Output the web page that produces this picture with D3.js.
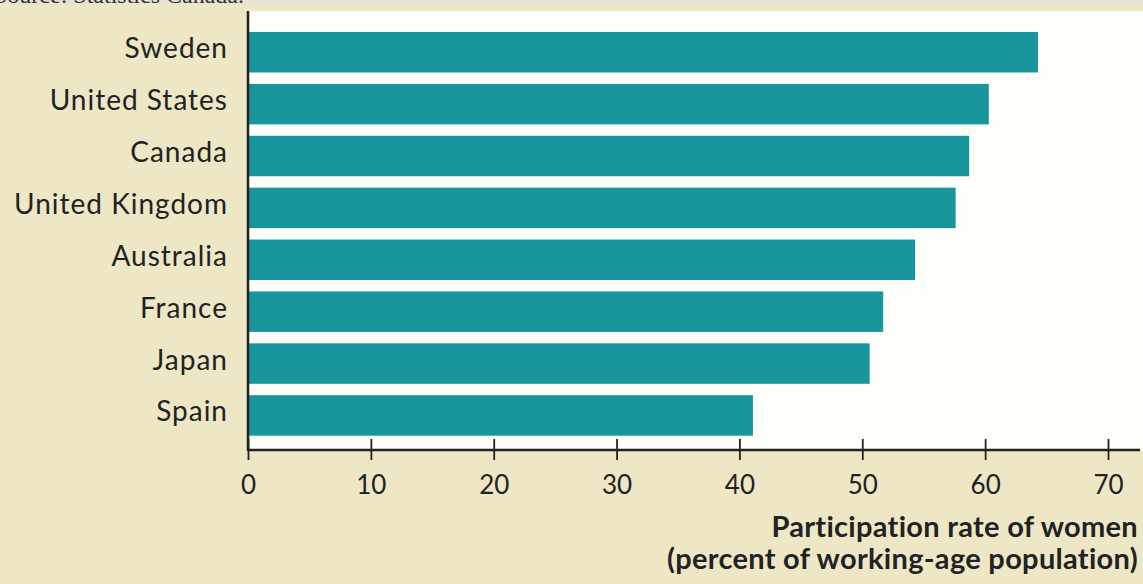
<!DOCTYPE html>
<html>
<head>
<meta charset="utf-8">
<script src="https://cdn.jsdelivr.net/npm/d3@7"></script>
<style>
  body { margin: 0; background: #eee8c7; }
  svg { display: block; }
  text { font-family: Lato, "Open Sans", sans-serif; fill: #222; }
</style>
</head>
<body>
<div id="chart"></div>
<script>
// data
var countries = ["Sweden", "United States", "Canada", "United Kingdom", "Australia", "France", "Japan", "Spain"];
var rates = [64.3, 60.3, 58.7, 57.6, 54.3, 51.7, 50.6, 41.1];
var tickValues = [0, 10, 20, 30, 40, 50, 60, 70];
var axisTitle = ["Participation rate of women", "(percent of working-age population)"];
var sourceNote = "Source: Statistics Canada.";

var width = 1143, height = 584;
var margin = { top: 11, left: 248, bottom: 450, right: 1143 };

var svg = d3.select("#chart")
  .append("svg")
  .attr("width", width)
  .attr("height", height);

// paper background
svg.append("rect")
  .attr("width", width).attr("height", height)
  .attr("fill", "#ede7c5");

svg.append("rect")
  .attr("width", width).attr("height", 4)
  .attr("fill", "#e6e3d6");

// source line, clipped at the top like the scan
svg.append("text")
  .attr("x", -6).attr("y", 3)
  .style("font-family", "'Liberation Serif', serif")
  .style("font-size", "24px")
  .style("fill", "#333")
  .text(sourceNote);

// white plot panel
svg.append("rect")
  .attr("x", margin.left).attr("y", margin.top)
  .attr("width", margin.right - margin.left)
  .attr("height", margin.bottom - margin.top)
  .attr("fill", "#fdfdfa");

var data = countries.map((c, i) => ({ name: c, value: rates[i] }));

var x = d3.scaleLinear()
  .domain([0, 70])
  .range([248, 1108]);

var y = d3.scaleBand()
  .domain(countries)
  .range([26.3, 441.4])
  .paddingInner(0.22)
  .paddingOuter(0.11);

svg.selectAll(".bar")
  .data(data)
  .join("rect")
  .attr("class", "bar")
  .attr("x", x(0))
  .attr("y", d => y(d.name))
  .attr("width", d => x(d.value) - x(0))
  .attr("height", y.bandwidth())
  .attr("fill", "#18969c");

// country labels
svg.selectAll(".label")
  .data(data)
  .join("text")
  .attr("class", "label")
  .attr("x", 228)
  .attr("y", d => y(d.name) + y.bandwidth() / 2 + 6)
  .attr("text-anchor", "end")
  .style("font-size", "28px")
  .style("letter-spacing", "1px")
  .text(d => d.name);

// x axis with ticks crossing the line
var xaxis = svg.append("g")
  .attr("transform", `translate(0, ${margin.bottom})`)
  .call(d3.axisBottom(x).tickValues(tickValues).tickSize(10).tickPadding(16));

xaxis.select(".domain").remove();
xaxis.selectAll(".tick line")
  .attr("y1", -11).attr("y2", 10)
  .attr("stroke", "#222").attr("stroke-width", 1.8);
xaxis.selectAll(".tick text")
  .style("font-family", "Lato, sans-serif")
  .style("font-size", "26px")
  .attr("fill", "#222");

svg.append("line")
  .attr("x1", margin.left - 1).attr("x2", 1140)
  .attr("y1", margin.bottom).attr("y2", margin.bottom)
  .attr("stroke", "#222").attr("stroke-width", 2.5);

svg.append("line")
  .attr("x1", margin.left).attr("x2", margin.left)
  .attr("y1", margin.top).attr("y2", margin.bottom)
  .attr("stroke", "#222").attr("stroke-width", 2.5);

// axis title
svg.selectAll(".xtitle")
  .data(axisTitle)
  .join("text")
  .attr("class", "xtitle")
  .attr("x", 1138)
  .attr("y", (d, i) => 537 + i * 32)
  .attr("text-anchor", "end")
  .style("font-size", "29px")
  .style("letter-spacing", "0.3px")
  .style("font-weight", "bold")
  .text(d => d);
</script>
</body>
</html>
